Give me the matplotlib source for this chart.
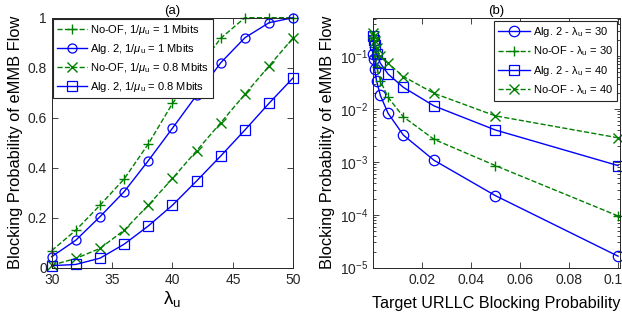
import numpy as np
import matplotlib
matplotlib.use('Agg')
import matplotlib.pyplot as plt
import matplotlib.transforms as mtransforms
from matplotlib.ticker import FixedLocator, LogLocator, NullFormatter

plt.rcParams['font.family'] = ['Liberation Sans', 'DejaVu Sans']
plt.rcParams['mathtext.fontset'] = 'custom'
plt.rcParams['mathtext.rm'] = 'Liberation Sans'
plt.rcParams['mathtext.it'] = 'Liberation Sans:italic'

BLUE = '#0000ff'
GREEN = '#008000'

# (a) blocking probability vs lambda_u
lam = [30, 32, 34, 36, 38, 40, 42, 44, 46, 48, 50]
noof_1 = [0.068, 0.15, 0.25, 0.355, 0.495, 0.657, 0.79, 0.918, 1.0, 1.0, 1.0]
alg2_1 = [0.044, 0.11, 0.204, 0.304, 0.428, 0.558, 0.69, 0.82, 0.92, 0.98, 1.0]
noof_08 = [0.01, 0.037, 0.077, 0.15, 0.25, 0.357, 0.468, 0.58, 0.694, 0.807, 0.92]
alg2_08 = [0.008, 0.013, 0.038, 0.094, 0.167, 0.25, 0.347, 0.447, 0.551, 0.658, 0.76]

# (b) blocking probability vs target URLLC blocking probability
target = [0.1, 0.05, 0.025, 0.0125, 0.00625, 0.003125, 0.0015625,
          0.00078125, 0.000390625, 0.0001953125]
alg2_30 = [1.65e-5, 2.3e-4, 1.07e-3, 3.2e-3, 8.3e-3, 0.018, 0.034, 0.056, 0.087, 0.11]
noof_30 = [9.5e-5, 8.5e-4, 2.66e-3, 7.1e-3, 0.0166, 0.034, 0.063, 0.1, 0.15, 0.22]
alg2_40 = [8.5e-4, 4.0e-3, 0.0114, 0.0256, 0.0457, 0.073, 0.11, 0.16, 0.2, 0.24]
noof_40 = [2.85e-3, 7.4e-3, 0.0197, 0.041, 0.073, 0.1, 0.14, 0.19, 0.24, 0.27]

fig = plt.figure(figsize=(6.22, 3.24), dpi=100)
ax1 = fig.add_axes([0.0831, 0.1738, 0.3884, 0.7716])
ax2 = fig.add_axes([0.5992, 0.1738, 0.3976, 0.7716])

ms = 6.5
ax1.plot(lam, noof_1, '--', color=GREEN, marker='+', ms=ms + 1, mew=1.0, lw=1.0,
         label='No-OF, 1/$\\mathit{\\mu}_\\mathrm{u}$ = 1 Mbits', clip_on=False)
ax1.plot(lam, alg2_1, '-', color=BLUE, marker='o', ms=ms, mfc='none', mew=0.9, lw=1.0,
         label='Alg. 2, 1/$\\mathit{\\mu}_\\mathrm{u}$ = 1 Mbits', clip_on=False)
ax1.plot(lam, noof_08, '--', color=GREEN, marker='x', ms=ms, mew=1.0, lw=1.0,
         label='No-OF, 1/$\\mathit{\\mu}_\\mathrm{u}$ = 0.8 Mbits', clip_on=False)
ax1.plot(lam, alg2_08, '-', color=BLUE, marker='s', ms=ms, mfc='none', mew=0.9, lw=1.0,
         label='Alg. 2, 1/$\\mathit{\\mu}_\\mathrm{u}$ = 0.8 Mbits', clip_on=False)
ax1.set_xlim(30, 50)
ax1.set_ylim(0, 1)
ax1.set_xticks([30, 35, 40, 45, 50])
ax1.set_yticks([0, 0.2, 0.4, 0.6, 0.8, 1])
ax1.set_yticklabels(['0', '0.2', '0.4', '0.6', '0.8', '1'])
ax1.set_xlabel('λ$_\\mathrm{u}$', fontsize=13.5, labelpad=2)
ax1.set_ylabel('Blocking Probability of eMMB Flow', fontsize=11.8, labelpad=3)
ax1.set_title('(a)', fontsize=9.5, pad=3)
leg1 = ax1.legend(loc='upper left', fontsize=8.0, handlelength=2.7, borderaxespad=0.12,
                  labelspacing=0.45, handletextpad=0.25, fancybox=False, framealpha=1,
                  edgecolor='#262626', borderpad=0.35)
leg1.get_frame().set_linewidth(0.8)

ax2.semilogy(target, alg2_30, '-', color=BLUE, marker='o', ms=ms + 1, mfc='none', mew=0.9,
             lw=1.0, label='Alg. 2 - λ$_\\mathrm{u}$ = 30', clip_on=False)
ax2.semilogy(target, noof_30, '--', color=GREEN, marker='+', ms=ms + 1, mew=1.0, lw=1.0,
             label='No-OF - λ$_\\mathrm{u}$ = 30', clip_on=False)
ax2.semilogy(target, alg2_40, '-', color=BLUE, marker='s', ms=ms, mfc='none', mew=0.9,
             lw=1.0, label='Alg. 2 - λ$_\\mathrm{u}$ = 40', clip_on=False)
ax2.semilogy(target, noof_40, '--', color=GREEN, marker='x', ms=ms, mew=1.0, lw=1.0,
             label='No-OF - λ$_\\mathrm{u}$ = 40', clip_on=False)
ax2.set_xlim(0, 0.1008)
ax2.set_ylim(1e-5, 0.53)
ax2.set_xticks([0.02, 0.04, 0.06, 0.08, 0.1])
ax2.set_xticklabels(['0.02', '0.04', '0.06', '0.08', '0.1'])
ax2.yaxis.set_major_locator(FixedLocator([1e-5, 1e-4, 1e-3, 1e-2, 1e-1]))
ax2.yaxis.set_minor_locator(LogLocator(base=10, subs=np.arange(2, 10)))
ax2.yaxis.set_minor_formatter(NullFormatter())
ax2.set_xlabel('Target URLLC Blocking Probability', fontsize=11.6, labelpad=7)
ax2.set_ylabel('Blocking Probability of eMMB Flow', fontsize=11.8, labelpad=3)
ax2.set_title('(b)', fontsize=9.5, pad=3)
leg2 = ax2.legend(loc='upper right', fontsize=8.0, handlelength=2.9, borderaxespad=0.3,
                  labelspacing=0.5, handletextpad=0.25, fancybox=False, framealpha=1,
                  edgecolor='#262626', borderpad=0.35)
leg2.get_frame().set_linewidth(0.8)

for ax in (ax1, ax2):
    ax.tick_params(which='both', direction='in', top=True, right=True,
                   labelsize=10, colors='#262626', width=0.6)
    ax.tick_params(which='major', length=4)
    ax.tick_params(which='minor', length=2)
    for s in ax.spines.values():
        s.set_linewidth(0.7)
        s.set_color('#262626')

# nudge the last x tick label so it stays inside the figure
last = ax2.get_xticklabels()[-1]
last.set_transform(last.get_transform() +
                   mtransforms.ScaledTranslation(-5 / 100, 0, fig.dpi_scale_trans))

fig.savefig('out.png', dpi=100)
